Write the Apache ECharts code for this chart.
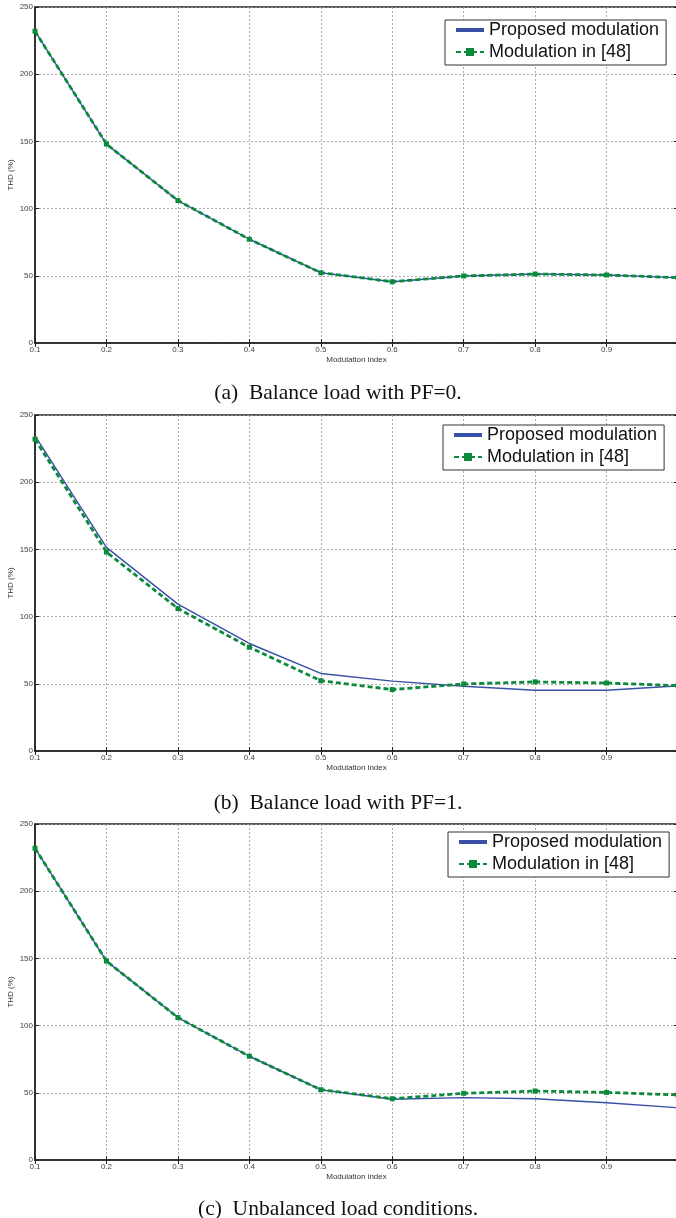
<!DOCTYPE html>
<html>
<head>
<meta charset="utf-8">
<script src="https://cdn.jsdelivr.net/npm/echarts@6/dist/echarts.min.js"></script>
<style>
  html, body { margin: 0; padding: 0; background: #fff; }
  #thd { width: 676px; height: 1218px; }
</style>
</head>
<body>
<div id="thd"></div>
<script>
// modulation index (x)
const modIndex = [0.1, 0.2, 0.3, 0.4, 0.5, 0.6, 0.7, 0.8, 0.9, 1.0];

// (a) balance load PF=0
const propA = [232, 148, 106, 77.2, 52.3, 45.6, 49.9, 51.3, 50.6, 48.6];
const refA  = [232, 148, 106, 77.2, 52.3, 45.6, 49.9, 51.3, 50.6, 48.6];
// (b) balance load PF=1
const propB = [234.5, 151.5, 109.3, 80, 57.7, 52, 48.2, 45.2, 45.2, 48.4];
const refB  = [232, 148, 106, 77.2, 52.3, 45.7, 49.9, 51.4, 50.6, 48.6];
// (c) unbalanced load
const propC = [232, 148, 106, 77.2, 52.3, 45.2, 46.4, 45.6, 42.6, 38.9];
const refC  = [232, 148, 106, 77.2, 52.3, 45.6, 49.6, 51.3, 50.3, 48.4];

const captions = ['(a)  Balance load with PF=0.', '(b)  Balance load with PF=1.', '(c)  Unbalanced load conditions.'];
const seriesNames = ['Proposed modulation', 'Modulation in [48]'];

const BLUE = '#3850a6';
const GREEN = '#0c8a3c';

// layout of each panel (px)
const panels = [
  { top: 7,   prop: propA, ref: refA, capTop: 377,  leg: { left: 445, top: 20 } },
  { top: 415, prop: propB, ref: refB, capTop: 787,  leg: { left: 443, top: 425 } },
  { top: 824, prop: propC, ref: refC, capTop: 1193, leg: { left: 448, top: 832 } }
];

const pairs = (ys) => modIndex.map((x, i) => [x, ys[i]]);

const chart = echarts.init(document.getElementById('thd'));

let grid = [], xAxis = [], yAxis = [], series = [], legend = [], title = [];
const gridLine = { show: true, lineStyle: { color: '#999', type: [2, 2], width: 0.8 } };
const frameTick = { inside: true, length: 4, lineStyle: { color: '#222' } };

panels.forEach((p, k) => {
  grid.push({
    left: 35, right: -2, top: p.top, height: 336,
    outerBoundsMode: 'none', containLabel: false,
    show: true, borderColor: '#222', borderWidth: 1.5, backgroundColor: '#fff'
  });
  xAxis.push({
    type: 'value', gridIndex: k, min: 0.1, max: 1.0, interval: 0.1,
    name: 'Modulation index', nameLocation: 'middle', nameGap: 13, nameMoveOverlap: false,
    nameTextStyle: { fontSize: 8, color: '#333', fontFamily: 'Liberation Sans' },
    axisLine: { lineStyle: { color: '#222', width: 1.5 } },
    axisTick: frameTick,
    axisLabel: {
      fontSize: 8, color: '#444', margin: 3, fontFamily: 'Liberation Sans',
      formatter: v => String(+v.toFixed(1))
    },
    splitLine: gridLine
  });
  yAxis.push({
    type: 'value', gridIndex: k, min: 0, max: 250, interval: 50,
    name: 'THD (%)', nameLocation: 'middle', nameGap: 20, nameRotate: 90, nameMoveOverlap: false,
    nameTextStyle: { fontSize: 8, color: '#333', fontFamily: 'Liberation Sans' },
    axisLine: { lineStyle: { color: '#222', width: 1.5 } },
    axisTick: frameTick,
    axisLabel: { fontSize: 8, color: '#444', margin: 2, fontFamily: 'Liberation Sans' },
    splitLine: gridLine
  });
  series.push({
    name: seriesNames[0], type: 'line', xAxisIndex: k, yAxisIndex: k,
    data: pairs(p.prop), showSymbol: false, symbol: 'none',
    lineStyle: { color: BLUE, width: 1.4 }, itemStyle: { color: BLUE },
    z: 3
  });
  series.push({
    name: seriesNames[1], type: 'line', xAxisIndex: k, yAxisIndex: k,
    data: pairs(p.ref), symbol: 'rect', symbolSize: 5,
    lineStyle: { color: GREEN, width: 2.8, type: [5, 3] }, itemStyle: { color: GREEN },
    z: 4
  });
  legend.push({
    orient: 'vertical', left: p.leg.left, top: p.leg.top,
    padding: [1, 7, 4, 10], itemGap: 4,
    itemWidth: 28, itemHeight: 10,
    backgroundColor: '#fff', borderColor: '#333', borderWidth: 1, borderRadius: 0,
    textStyle: { fontSize: 18, color: '#111', fontFamily: 'Liberation Sans' },
    data: [
      { name: seriesNames[0], icon: 'path://M0,0 L28,0 L28,4 L0,4 Z', itemStyle: { color: BLUE } },
      { name: seriesNames[1] }
    ],
    selectedMode: false
  });
  title.push({
    text: captions[k], left: 'center', top: p.capTop,
    textStyle: { fontFamily: 'Liberation Serif', fontSize: 21.5, fontWeight: 'normal', color: '#111' }
  });
});

// top and right frame ticks, no labels
panels.forEach((p, k) => {
  xAxis.push({
    type: 'value', gridIndex: k, position: 'top', min: 0.1, max: 1.0, interval: 0.1,
    axisLine: { show: false }, axisTick: frameTick, axisLabel: { show: false }, splitLine: { show: false }
  });
  yAxis.push({
    type: 'value', gridIndex: k, position: 'right', min: 0, max: 250, interval: 50,
    axisLine: { show: false }, axisTick: frameTick, axisLabel: { show: false }, splitLine: { show: false }
  });
});

chart.setOption({
  backgroundColor: '#fff',
  animation: false,
  title, grid, xAxis, yAxis, legend, series
});
</script>
</body>
</html>
